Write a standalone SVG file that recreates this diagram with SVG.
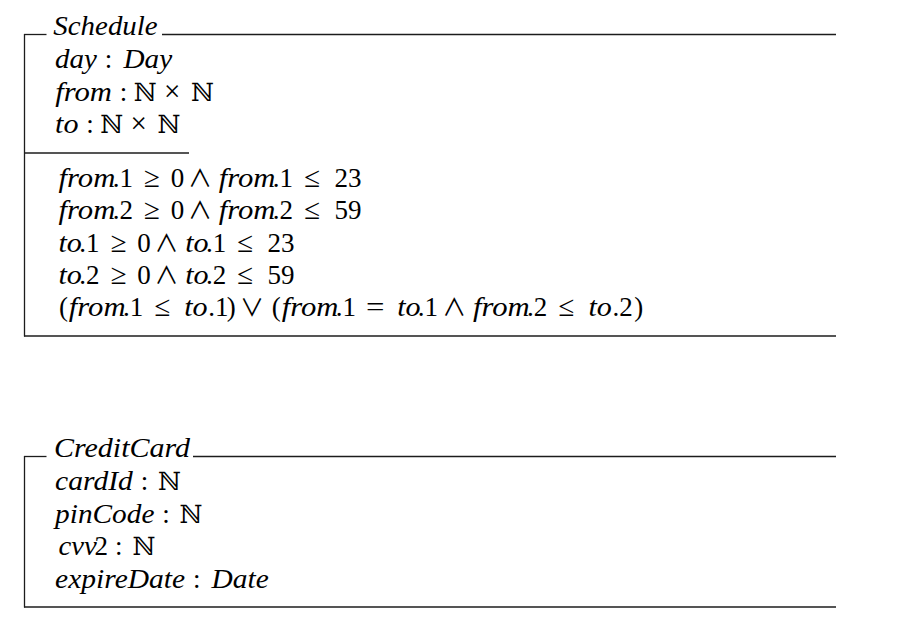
<svg xmlns="http://www.w3.org/2000/svg" width="923" height="644" viewBox="0 0 923 644">
<style>
  .frame { stroke: #1c1c1c; stroke-width: 1.3; fill: none; }
  text { font-family: "Liberation Serif", "DejaVu Serif", serif; font-size: 27px; fill: #000; text-anchor: middle; }
  .i { font-style: italic; }
  .r { font-style: normal; }
  .rel { font-style: normal; font-size: 29px; }
  .eq { font-style: normal; font-size: 28px; }
  .bin { font-family: "Noto Sans CJK JP", "DejaVu Sans", sans-serif; font-style: normal; font-size: 24px; }
  .x { font-style: normal; font-size: 29px; }
  .n { font-family: "DejaVu Serif", "DejaVu Sans", serif; font-size: 25px; font-style: normal; }
</style>
<rect width="923" height="644" fill="#fff"/>

<g id="schedule">
  <g id="schedule-frame">
    <line class="frame" x1="24" y1="34.5" x2="46.5" y2="34.5"/>
    <line class="frame" x1="162" y1="34.5" x2="836" y2="34.5"/>
    <line class="frame" x1="24.5" y1="34" x2="24.5" y2="336.5"/>
    <line class="frame" x1="24" y1="153" x2="189" y2="153"/>
    <line class="frame" x1="24" y1="336" x2="836" y2="336"/>
  </g>
  <text class="i" x="105.5" y="35" textLength="104.3" lengthAdjust="spacingAndGlyphs">Schedule</text>

  <text y="68"><tspan class="i" x="79.43" textLength="41.85" lengthAdjust="spacingAndGlyphs">day</tspan> <tspan class="r" x="111.92">:</tspan> <tspan class="i" x="147.81" textLength="48.65" lengthAdjust="spacingAndGlyphs">Day</tspan></text>
  <text y="100.5"><tspan class="i" x="86.93" textLength="56.86" lengthAdjust="spacingAndGlyphs">from</tspan> <tspan class="r" x="126.93">:</tspan> <tspan class="n" x="148.51">ℕ</tspan> <tspan class="x" x="175.5">×</tspan> <tspan class="n" x="202.48">ℕ</tspan></text>
  <text y="133"><tspan class="i" x="70.2" textLength="23.39" lengthAdjust="spacingAndGlyphs">to</tspan> <tspan class="r" x="93.46">:</tspan> <tspan class="n" x="115.04">ℕ</tspan> <tspan class="x" x="142.03">×</tspan> <tspan class="n" x="169.01">ℕ</tspan></text>

  <text y="187"><tspan class="i" x="86.93" textLength="56.86" lengthAdjust="spacingAndGlyphs">from</tspan><tspan class="r" x="126.16">.1</tspan> <tspan class="rel" x="155.46">≥</tspan> <tspan class="r" x="180.9">0</tspan> <tspan class="bin" x="203.27">∧</tspan> <tspan class="i" x="247.12" textLength="56.86" lengthAdjust="spacingAndGlyphs">from</tspan><tspan class="r" x="286.35">.1</tspan> <tspan class="rel" x="315.65">≤</tspan> <tspan class="r" x="348.03">23</tspan></text>
  <text y="219.25"><tspan class="i" x="86.93" textLength="56.86" lengthAdjust="spacingAndGlyphs">from</tspan><tspan class="r" x="126.16">.2</tspan> <tspan class="rel" x="155.46">≥</tspan> <tspan class="r" x="180.9">0</tspan> <tspan class="bin" x="203.27">∧</tspan> <tspan class="i" x="247.12" textLength="56.86" lengthAdjust="spacingAndGlyphs">from</tspan><tspan class="r" x="286.35">.2</tspan> <tspan class="rel" x="315.65">≤</tspan> <tspan class="r" x="348.03">59</tspan></text>
  <text y="251.5"><tspan class="i" x="70.2" textLength="23.39" lengthAdjust="spacingAndGlyphs">to</tspan><tspan class="r" x="92.69">.1</tspan> <tspan class="rel" x="121.99">≥</tspan> <tspan class="r" x="147.43">0</tspan> <tspan class="bin" x="169.8">∧</tspan> <tspan class="i" x="196.92" textLength="23.39" lengthAdjust="spacingAndGlyphs">to</tspan><tspan class="r" x="219.41">.1</tspan> <tspan class="rel" x="248.71">≤</tspan> <tspan class="r" x="281.09">23</tspan></text>
  <text y="283.75"><tspan class="i" x="70.2" textLength="23.39" lengthAdjust="spacingAndGlyphs">to</tspan><tspan class="r" x="92.69">.2</tspan> <tspan class="rel" x="121.99">≥</tspan> <tspan class="r" x="147.43">0</tspan> <tspan class="bin" x="169.8">∧</tspan> <tspan class="i" x="196.92" textLength="23.39" lengthAdjust="spacingAndGlyphs">to</tspan><tspan class="r" x="219.41">.2</tspan> <tspan class="rel" x="248.71">≤</tspan> <tspan class="r" x="281.09">59</tspan></text>
  <text y="316"><tspan class="r" x="63.4">(</tspan><tspan class="i" x="97.22" textLength="56.86" lengthAdjust="spacingAndGlyphs">from</tspan><tspan class="r" x="136.45">.1</tspan> <tspan class="rel" x="165.75">≤</tspan> <tspan class="i" x="195.95" textLength="23.39" lengthAdjust="spacingAndGlyphs">to</tspan><tspan class="r" x="218.44">.1</tspan><tspan class="r" x="234.63">)</tspan> <tspan class="bin" x="255.45">∨</tspan> <tspan class="r" x="276.27">(</tspan><tspan class="i" x="310.09" textLength="56.86" lengthAdjust="spacingAndGlyphs">from</tspan><tspan class="r" x="349.32">.1</tspan> <tspan class="eq" x="378.62" textLength="18.5" lengthAdjust="spacingAndGlyphs">=</tspan> <tspan class="i" x="408.82" textLength="23.39" lengthAdjust="spacingAndGlyphs">to</tspan><tspan class="r" x="431.31">.1</tspan> <tspan class="bin" x="457.53">∧</tspan> <tspan class="i" x="501.38" textLength="56.86" lengthAdjust="spacingAndGlyphs">from</tspan><tspan class="r" x="540.61">.2</tspan> <tspan class="rel" x="569.91">≤</tspan> <tspan class="i" x="600.11" textLength="23.39" lengthAdjust="spacingAndGlyphs">to</tspan><tspan class="r" x="622.6">.2</tspan><tspan class="r" x="638.79">)</tspan></text>
</g>

<g id="creditcard">
  <g id="creditcard-frame">
    <line class="frame" x1="24" y1="456.5" x2="46.5" y2="456.5"/>
    <line class="frame" x1="193" y1="456.5" x2="836" y2="456.5"/>
    <line class="frame" x1="24.5" y1="456" x2="24.5" y2="607.5"/>
    <line class="frame" x1="24" y1="607" x2="836" y2="607"/>
  </g>
  <text class="i" x="122" y="457" textLength="136.2" lengthAdjust="spacingAndGlyphs">CreditCard</text>

  <text y="490"><tspan class="i" x="97.37" textLength="77.73" lengthAdjust="spacingAndGlyphs">cardId</tspan> <tspan class="r" x="147.8">:</tspan> <tspan class="n" x="169.38">ℕ</tspan></text>
  <text y="522.5"><tspan class="i" x="108.15" textLength="99.29" lengthAdjust="spacingAndGlyphs">pinCode</tspan> <tspan class="r" x="169.36">:</tspan> <tspan class="n" x="190.94">ℕ</tspan></text>
  <text y="555"><tspan class="i" x="77.65" textLength="38.3" lengthAdjust="spacingAndGlyphs">cvv</tspan><tspan class="r" x="104.74">2</tspan> <tspan class="r" x="122.25">:</tspan> <tspan class="n" x="143.83">ℕ</tspan></text>
  <text y="587.5"><tspan class="i" x="123.48" textLength="129.95" lengthAdjust="spacingAndGlyphs">expireDate</tspan> <tspan class="r" x="200.02">:</tspan> <tspan class="i" x="240.15" textLength="57.14" lengthAdjust="spacingAndGlyphs">Date</tspan></text>
</g>
</svg>
